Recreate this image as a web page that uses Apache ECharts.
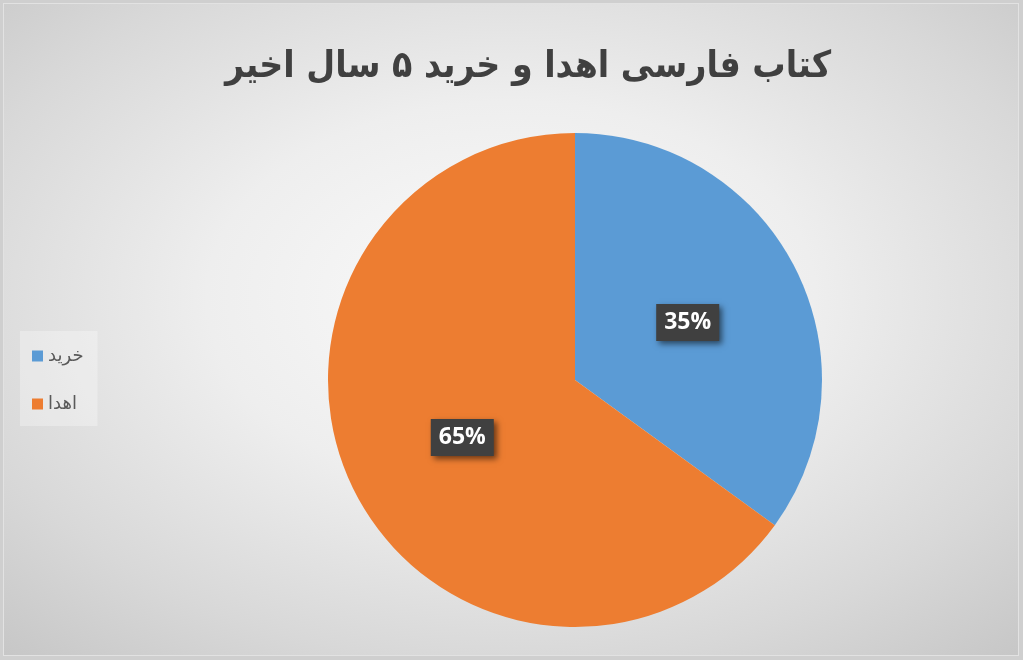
<!DOCTYPE html>
<html><head><meta charset="utf-8">
<script src="https://cdn.jsdelivr.net/npm/echarts@6/dist/echarts.min.js"></script>
<style>
html,body{margin:0;padding:0;width:1023px;height:660px;overflow:hidden;background:#cfcfcf;}
#wrap{position:absolute;left:3px;top:3px;width:1016px;height:653px;border:1px solid #e2e2e2;box-sizing:border-box;
background:radial-gradient(ellipse 75% 75% at 50% 45%, #fbfbfb 0%, #eeeeee 40%, #d8d8d8 75%, #c6c6c6 100%);}
#chart{position:absolute;left:0;top:0;width:1023px;height:660px;}
</style></head>
<body><div id="wrap"></div><div id="chart"></div>
<script>
const titleText = 'کتاب فارسی اهدا و خرید ۵ سال اخیر';
const categories = ['خرید', 'اهدا'];
const values = [35, 65];
const colors = ['#5b9bd5', '#ed7d31'];

const chart = echarts.init(document.getElementById('chart'));
chart.setOption({
  backgroundColor: 'transparent',
  title: {
    text: titleText, left: 220, top: 44,
    textStyle: {fontFamily: 'DejaVu Sans Condensed', fontWeight: 'bold', fontSize: 37, color: '#404040'}
  },
  legend: {
    orient: 'vertical', left: 20, top: 331,
    padding: [16, 14, 13, 12], itemGap: 30,
    backgroundColor: 'rgba(255,255,255,0.3)',
    itemWidth: 11, itemHeight: 11, icon: 'rect',
    textStyle: {fontFamily: 'DejaVu Sans', fontSize: 18, color: '#595959'},
    data: categories
  },
  series: [{
    type: 'pie', center: [575, 380], radius: 247, startAngle: 90, clockwise: true,
    silent: true,
    itemStyle: {borderColor: '#ffffff', borderWidth: 0},
    label: {
      show: true, position: 'inside', formatter: '{d}%',
      color: '#ffffff', fontFamily: 'Open Sans', fontWeight: 'bold', fontSize: 23,
      backgroundColor: '#404040', padding: [8, 8, 6, 8],
      shadowColor: 'rgba(0,0,0,0.55)', shadowBlur: 6, shadowOffsetX: 3, shadowOffsetY: 3
    },
    labelLine: {show: false},
    data: categories.map((c, i) => ({name: c, value: values[i], itemStyle: {color: colors[i]}}))
  }]
});
</script></body></html>
